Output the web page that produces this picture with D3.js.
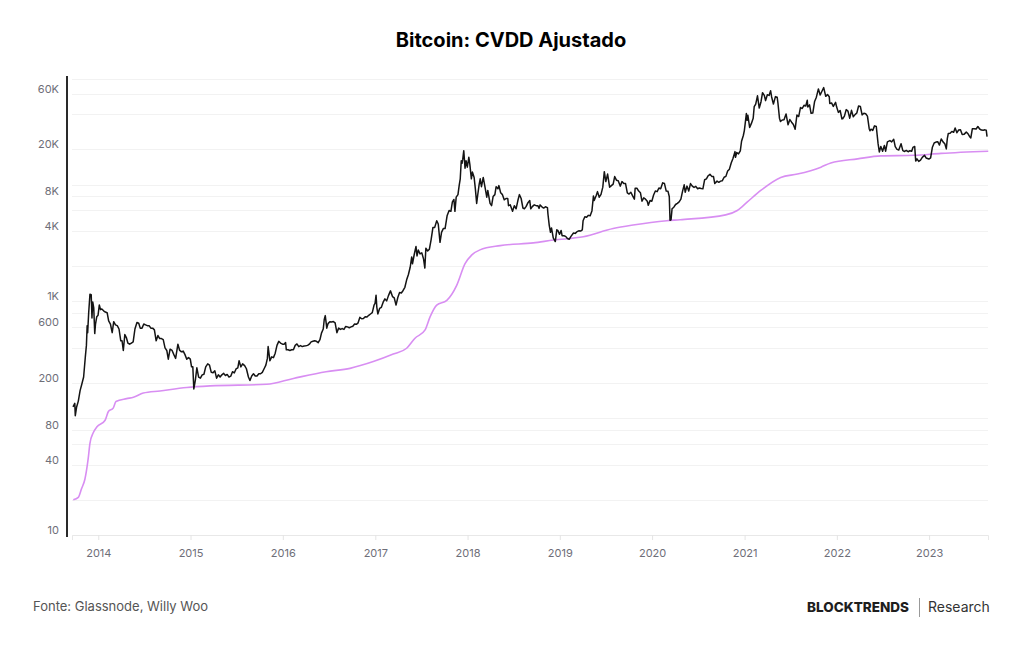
<!DOCTYPE html>
<html>
<head>
<meta charset="utf-8">
<script src="https://cdn.jsdelivr.net/npm/d3@7"></script>
<style>
  body { margin: 0; background: #fff; }
  svg { display: block; font-family: Inter, "Noto Sans", sans-serif; }
</style>
</head>
<body>
<div id="chart"></div>
<script>
// BTC price (black), one array per year
var price2013 = [["2013-09-23",125],["2013-09-30",134],["2013-10-02",105],["2013-10-07",124],["2013-10-14",140],["2013-10-21",172],["2013-10-28",196],["2013-11-04",225],["2013-11-11",340],["2013-11-15",420],["2013-11-18",620],["2013-11-20",540],["2013-11-24",800],["2013-11-29",1150],["2013-12-04",1140],["2013-12-07",720],["2013-12-10",990],["2013-12-14",880],["2013-12-18",530],["2013-12-21",640],["2013-12-26",740],["2013-12-31",760]];
var price2014 = [["2014-01-05",930],["2014-01-10",850],["2014-01-15",860],["2014-01-22",830],["2014-01-29",810],["2014-02-05",800],["2014-02-11",680],["2014-02-18",640],["2014-02-25",540],["2014-03-03",670],["2014-03-10",630],["2014-03-17",620],["2014-03-24",580],["2014-03-31",460],["2014-04-05",460],["2014-04-10",380],["2014-04-16",520],["2014-04-22",490],["2014-04-28",440],["2014-05-05",430],["2014-05-12",440],["2014-05-19",450],["2014-05-26",580],["2014-06-03",660],["2014-06-10",650],["2014-06-16",590],["2014-06-23",590],["2014-06-30",640],["2014-07-07",630],["2014-07-14",620],["2014-07-21",620],["2014-07-28",590],["2014-08-04",590],["2014-08-11",570],["2014-08-18",460],["2014-08-25",510],["2014-09-01",480],["2014-09-08",480],["2014-09-15",470],["2014-09-22",400],["2014-09-29",380],["2014-10-05",320],["2014-10-12",390],["2014-10-20",380],["2014-10-27",350],["2014-11-03",325],["2014-11-12",430],["2014-11-19",380],["2014-11-26",370],["2014-12-03",375],["2014-12-10",350],["2014-12-17",320],["2014-12-24",330],["2014-12-31",320]];
var price2015 = [["2015-01-05",275],["2015-01-10",275],["2015-01-14",178],["2015-01-20",212],["2015-01-26",270],["2015-02-02",225],["2015-02-09",220],["2015-02-16",235],["2015-02-23",238],["2015-03-02",275],["2015-03-10",292],["2015-03-17",285],["2015-03-24",247],["2015-03-31",245],["2015-04-07",255],["2015-04-14",220],["2015-04-21",235],["2015-04-28",225],["2015-05-05",235],["2015-05-12",242],["2015-05-19",232],["2015-05-26",237],["2015-06-02",225],["2015-06-09",229],["2015-06-16",250],["2015-06-23",244],["2015-06-30",264],["2015-07-07",270],["2015-07-12",310],["2015-07-19",275],["2015-07-26",292],["2015-08-03",282],["2015-08-10",265],["2015-08-18",225],["2015-08-24",210],["2015-08-31",230],["2015-09-07",240],["2015-09-14",230],["2015-09-21",230],["2015-09-28",240],["2015-10-05",240],["2015-10-12",247],["2015-10-19",265],["2015-10-26",285],["2015-11-01",325],["2015-11-04",410],["2015-11-11",310],["2015-11-18",335],["2015-11-25",330],["2015-12-02",360],["2015-12-09",420],["2015-12-16",455],["2015-12-23",440],["2015-12-31",430]];
var price2016 = [["2016-01-06",430],["2016-01-12",445],["2016-01-15",385],["2016-01-22",385],["2016-01-29",380],["2016-02-05",385],["2016-02-12",385],["2016-02-19",420],["2016-02-26",432],["2016-03-04",410],["2016-03-11",418],["2016-03-18",410],["2016-03-25",415],["2016-04-01",417],["2016-04-08",420],["2016-04-15",430],["2016-04-22",450],["2016-04-29",455],["2016-05-06",460],["2016-05-13",455],["2016-05-20",443],["2016-05-27",470],["2016-06-02",535],["2016-06-09",580],["2016-06-13",700],["2016-06-17",755],["2016-06-23",590],["2016-06-28",645],["2016-07-05",670],["2016-07-12",665],["2016-07-19",672],["2016-07-26",655],["2016-08-02",540],["2016-08-09",590],["2016-08-16",575],["2016-08-23",585],["2016-08-30",575],["2016-09-06",610],["2016-09-13",605],["2016-09-20",595],["2016-09-27",605],["2016-10-04",612],["2016-10-11",640],["2016-10-18",636],["2016-10-25",655],["2016-11-01",730],["2016-11-08",710],["2016-11-15",712],["2016-11-22",740],["2016-11-29",735],["2016-12-06",760],["2016-12-13",780],["2016-12-20",800],["2016-12-27",930],["2016-12-31",960]];
var price2017 = [["2017-01-04",1130],["2017-01-07",890],["2017-01-11",780],["2017-01-18",870],["2017-01-25",890],["2017-02-01",985],["2017-02-08",1050],["2017-02-15",1010],["2017-02-22",1120],["2017-03-02",1230],["2017-03-10",1100],["2017-03-17",1070],["2017-03-24",930],["2017-03-31",1080],["2017-04-07",1190],["2017-04-14",1180],["2017-04-21",1240],["2017-04-28",1320],["2017-05-05",1530],["2017-05-12",1700],["2017-05-19",1960],["2017-05-25",2400],["2017-05-28",2100],["2017-06-04",2520],["2017-06-11",2950],["2017-06-15",2450],["2017-06-20",2750],["2017-06-27",2550],["2017-07-04",2600],["2017-07-11",2300],["2017-07-16",1930],["2017-07-20",2850],["2017-07-27",2700],["2017-08-03",2800],["2017-08-10",3400],["2017-08-17",4300],["2017-08-24",4300],["2017-09-01",4900],["2017-09-07",4600],["2017-09-14",3200],["2017-09-20",3900],["2017-09-27",4200],["2017-10-04",4200],["2017-10-12",5400],["2017-10-20",6000],["2017-10-27",5900],["2017-11-02",7100],["2017-11-08",7450],["2017-11-12",5900],["2017-11-17",7800],["2017-11-24",8200],["2017-11-29",9900],["2017-12-03",11200],["2017-12-07",16000],["2017-12-10",15200],["2017-12-13",16500],["2017-12-17",19500],["2017-12-22",13800],["2017-12-26",16000],["2017-12-31",14100]];
var price2018 = [["2018-01-06",17100],["2018-01-10",14900],["2018-01-16",11200],["2018-01-20",12800],["2018-01-27",11500],["2018-02-01",9100],["2018-02-06",6900],["2018-02-10",8100],["2018-02-16",10100],["2018-02-20",11200],["2018-02-25",9600],["2018-03-04",11500],["2018-03-11",9500],["2018-03-18",7800],["2018-03-22",8900],["2018-03-31",6900],["2018-04-06",6600],["2018-04-12",7900],["2018-04-19",8200],["2018-04-24",9600],["2018-05-01",9200],["2018-05-05",9800],["2018-05-12",8500],["2018-05-19",8200],["2018-05-26",7400],["2018-06-02",7600],["2018-06-09",7600],["2018-06-12",6600],["2018-06-19",6700],["2018-06-28",5900],["2018-07-05",6600],["2018-07-12",6200],["2018-07-19",7300],["2018-07-25",8200],["2018-08-01",7600],["2018-08-08",6300],["2018-08-14",6200],["2018-08-21",6500],["2018-08-28",7000],["2018-09-04",7300],["2018-09-08",6200],["2018-09-15",6500],["2018-09-22",6700],["2018-09-29",6600],["2018-10-06",6600],["2018-10-11",6250],["2018-10-15",6700],["2018-10-22",6450],["2018-10-29",6300],["2018-11-05",6450],["2018-11-13",6350],["2018-11-15",5600],["2018-11-20",4500],["2018-11-25",3900],["2018-11-29",4250],["2018-12-06",3500],["2018-12-14",3250],["2018-12-20",4100],["2018-12-24",4050],["2018-12-31",3750]];
var price2019 = [["2019-01-06",4050],["2019-01-10",3650],["2019-01-17",3650],["2019-01-24",3600],["2019-01-31",3450],["2019-02-07",3400],["2019-02-14",3600],["2019-02-24",3850],["2019-03-03",3820],["2019-03-10",3950],["2019-03-17",4020],["2019-03-24",4000],["2019-03-31",4100],["2019-04-03",4900],["2019-04-10",5300],["2019-04-17",5250],["2019-04-24",5450],["2019-05-01",5400],["2019-05-08",5950],["2019-05-14",8000],["2019-05-17",7300],["2019-05-25",8050],["2019-05-30",8700],["2019-06-06",7800],["2019-06-13",8250],["2019-06-20",9500],["2019-06-26",12900],["2019-07-02",10600],["2019-07-09",12300],["2019-07-17",9500],["2019-07-24",9800],["2019-07-31",10100],["2019-08-06",11700],["2019-08-13",10900],["2019-08-20",10800],["2019-08-28",9700],["2019-09-04",10600],["2019-09-11",10200],["2019-09-18",10200],["2019-09-25",8500],["2019-10-02",8300],["2019-10-09",8600],["2019-10-16",8000],["2019-10-23",7500],["2019-10-26",9300],["2019-11-02",9300],["2019-11-09",8800],["2019-11-16",8500],["2019-11-22",7200],["2019-11-29",7700],["2019-12-06",7500],["2019-12-13",7200],["2019-12-17",6650],["2019-12-24",7300],["2019-12-31",7200]];
var price2020 = [["2020-01-07",8150],["2020-01-14",8800],["2020-01-21",8700],["2020-01-28",9350],["2020-02-04",9200],["2020-02-12",10350],["2020-02-19",10200],["2020-02-26",8800],["2020-03-04",8750],["2020-03-09",7900],["2020-03-12",4950],["2020-03-16",5000],["2020-03-20",6200],["2020-03-27",6400],["2020-04-03",6750],["2020-04-10",6900],["2020-04-17",7100],["2020-04-24",7500],["2020-04-30",8650],["2020-05-07",9950],["2020-05-11",8600],["2020-05-18",9700],["2020-05-25",8800],["2020-06-01",10200],["2020-06-08",9700],["2020-06-15",9450],["2020-06-22",9650],["2020-06-29",9200],["2020-07-06",9350],["2020-07-13",9250],["2020-07-20",9200],["2020-07-27",11000],["2020-08-03",11200],["2020-08-10",11900],["2020-08-17",12250],["2020-08-24",11750],["2020-08-31",11700],["2020-09-05",10200],["2020-09-14",10700],["2020-09-21",10450],["2020-09-28",10700],["2020-10-05",10800],["2020-10-12",11550],["2020-10-19",11750],["2020-10-26",13050],["2020-11-02",13550],["2020-11-09",15300],["2020-11-16",16700],["2020-11-24",19150],["2020-11-26",17100],["2020-12-01",18800],["2020-12-08",18300],["2020-12-15",19400],["2020-12-20",23500],["2020-12-27",26300],["2020-12-31",29000]];
var price2021 = [["2021-01-03",32800],["2021-01-08",40600],["2021-01-11",35500],["2021-01-14",39200],["2021-01-21",30800],["2021-01-28",33400],["2021-02-04",36900],["2021-02-08",46400],["2021-02-14",48800],["2021-02-21",57500],["2021-02-28",45200],["2021-03-07",51200],["2021-03-13",61200],["2021-03-20",58100],["2021-03-25",52300],["2021-04-01",58700],["2021-04-08",58000],["2021-04-14",63500],["2021-04-18",56200],["2021-04-25",49000],["2021-05-03",56600],["2021-05-10",55900],["2021-05-13",49700],["2021-05-19",37000],["2021-05-23",34700],["2021-05-30",35700],["2021-06-06",35800],["2021-06-14",40200],["2021-06-22",32500],["2021-06-29",36000],["2021-07-06",34200],["2021-07-13",32700],["2021-07-20",29800],["2021-07-27",39400],["2021-08-03",38200],["2021-08-10",45600],["2021-08-17",44800],["2021-08-24",47700],["2021-08-31",47100],["2021-09-06",52700],["2021-09-08",46100],["2021-09-15",48100],["2021-09-21",40700],["2021-09-28",41000],["2021-10-05",51500],["2021-10-12",56000],["2021-10-20",65900],["2021-10-27",58500],["2021-11-03",62900],["2021-11-10",67600],["2021-11-18",56900],["2021-11-25",59000],["2021-12-02",56500],["2021-12-04",49400],["2021-12-11",50000],["2021-12-18",46700],["2021-12-27",50600],["2021-12-31",46300]];
var price2022 = [["2022-01-07",41500],["2022-01-14",43100],["2022-01-21",36500],["2022-01-24",36600],["2022-01-31",38500],["2022-02-07",43800],["2022-02-14",42500],["2022-02-21",37000],["2022-02-28",43200],["2022-03-07",38100],["2022-03-14",39700],["2022-03-21",41000],["2022-03-28",47100],["2022-04-04",46600],["2022-04-11",39500],["2022-04-18",40800],["2022-04-25",40400],["2022-05-02",38500],["2022-05-09",30100],["2022-05-12",28900],["2022-05-16",29800],["2022-05-23",29100],["2022-05-30",31800],["2022-06-06",31400],["2022-06-13",22500],["2022-06-18",19000],["2022-06-24",21200],["2022-07-01",19300],["2022-07-08",21600],["2022-07-13",19300],["2022-07-20",23200],["2022-07-30",23800],["2022-08-06",23200],["2022-08-14",24400],["2022-08-20",21100],["2022-08-27",20000],["2022-09-03",19800],["2022-09-12",22400],["2022-09-19",19500],["2022-09-26",19200],["2022-10-03",19600],["2022-10-10",19100],["2022-10-17",19500],["2022-10-24",19300],["2022-10-29",20800],["2022-11-05",21200],["2022-11-09",15900],["2022-11-14",16600],["2022-11-21",15800],["2022-11-28",16200],["2022-12-05",17100],["2022-12-14",17800],["2022-12-20",16900],["2022-12-31",16550]];
var price2023 = [["2023-01-07",16950],["2023-01-14",20900],["2023-01-21",22700],["2023-01-28",23100],["2023-02-04",23300],["2023-02-11",21800],["2023-02-18",24600],["2023-02-25",23200],["2023-03-04",22400],["2023-03-10",20200],["2023-03-14",24700],["2023-03-18",27400],["2023-03-25",27500],["2023-04-01",28500],["2023-04-08",28000],["2023-04-14",30500],["2023-04-21",27800],["2023-04-28",29300],["2023-05-05",29500],["2023-05-12",26800],["2023-05-19",26900],["2023-05-28",28100],["2023-06-04",27200],["2023-06-10",25800],["2023-06-15",25100],["2023-06-21",30000],["2023-06-28",30100],["2023-07-06",29900],["2023-07-13",31400],["2023-07-20",29900],["2023-07-27",29300],["2023-08-03",29200],["2023-08-10",29400],["2023-08-15",29200],["2023-08-18",26000],["2023-08-20",26100]];

// adjusted CVDD (purple)
var cvdd = [["2013-09-24",20],["2013-10-14",21],["2013-10-27",25],["2013-11-09",30],["2013-11-22",45],["2013-11-29",61],["2013-12-12",75],["2013-12-26",84],["2014-01-28",96],["2014-02-10",114],["2014-03-01",122],["2014-03-12",139],["2014-04-23",147],["2014-05-20",151],["2014-06-28",164],["2014-09-02",171],["2014-12-17",183],["2015-03-19",189],["2015-10-29",195],["2016-02-12",219],["2016-06-20",250],["2016-09-23",267],["2016-12-24",305],["2017-03-13",354],["2017-05-05",397],["2017-06-07",484],["2017-07-17",570],["2017-08-06",740],["2017-09-01",930],["2017-10-11",1020],["2017-11-19",1370],["2017-12-22",2100],["2018-01-18",2500],["2018-02-19",2760],["2018-05-10",3000],["2018-09-18",3170],["2018-12-07",3350],["2019-04-04",3570],["2019-07-31",4200],["2019-10-18",4500],["2020-02-28",4900],["2020-04-21",5000],["2020-10-18",5500],["2020-12-03",6000],["2021-01-12",7100],["2021-03-06",8900],["2021-05-24",11500],["2021-07-29",12300],["2021-10-30",14100],["2021-12-08",15300],["2022-03-24",16600],["2022-06-24",17600],["2022-11-03",17800],["2023-02-17",18500],["2023-08-23",19300]];

var gridTicks = [10, 20, 40, 60, 80, 100, 200, 400, 600, 800, 1000, 2000, 4000, 6000, 8000, 10000, 20000, 40000, 60000, 80000];
var labelTicks = [10, 40, 80, 200, 600, 1000, 4000, 8000, 20000, 60000];
var xDomain = ["2013-09-19", "2023-08-22"];
var yDomain = [10, 85000];

var w = 1024, h = 645;
var parse = d3.timeParse("%Y-%m-%d");
var prices = [].concat(price2013, price2014, price2015, price2016, price2017, price2018,
  price2019, price2020, price2021, price2022, price2023);

var svg = d3.select("#chart").append("svg")
  .attr("width", w)
  .attr("height", h);

svg.append("rect").attr("width", w).attr("height", h).attr("fill", "#fff");

var x = d3.scaleTime()
  .domain(xDomain.map(parse))
  .range([72, 988]);
var y = d3.scaleLog()
  .domain(yDomain)
  .range([535, 76]);

// title
svg.append("text")
  .attr("x", 511)
  .attr("y", 47)
  .attr("text-anchor", "middle")
  .attr("font-size", 20)
  .attr("font-weight", 700)
  .attr("fill", "#000")
  .text("Bitcoin: CVDD Ajustado");

// horizontal grid
svg.append("g")
  .selectAll("line")
  .data(gridTicks)
  .enter()
  .append("line")
  .attr("x1", 72)
  .attr("x2", 988)
  .attr("y1", function(d) { return Math.round(y(d)) + 0.5; })
  .attr("y2", function(d) { return Math.round(y(d)) + 0.5; })
  .attr("stroke", "#f2f2f2");

// x axis
var xg = svg.append("g")
  .attr("transform", "translate(0,535)")
  .call(d3.axisBottom(x)
    .ticks(d3.timeYear.every(1))
    .tickFormat(d3.timeFormat("%Y"))
    .tickSize(5)
    .tickPadding(9));
xg.select(".domain").attr("stroke", "#e8e8e8");
xg.selectAll(".tick line").attr("stroke", "#e4e4e4");
xg.selectAll(".tick text")
  .attr("fill", "#6e6e78")
  .attr("font-size", 11)
  .attr("font-family", "Inter, sans-serif");

// y labels (sit a bit above their grid line)
var yg = svg.append("g")
  .attr("transform", "translate(67,0)")
  .call(d3.axisLeft(y)
    .tickValues(labelTicks)
    .tickFormat(function(d) { return d >= 1000 ? (d / 1000) + "K" : d; })
    .tickSize(0)
    .tickPadding(8));
yg.select(".domain").remove();
yg.selectAll(".tick text")
  .attr("y", -5)
  .attr("fill", "#6e6e78")
  .attr("font-size", 11)
  .attr("font-family", "Inter, sans-serif");

// dark left rule
svg.append("line")
  .attr("x1", 67).attr("x2", 67)
  .attr("y1", 76).attr("y2", 537)
  .attr("stroke", "#2a2a2a")
  .attr("stroke-width", 2);

var line = d3.line()
  .x(function(d) { return x(parse(d[0])); })
  .y(function(d) { return y(d[1]); });

svg.append("path")
  .datum(cvdd)
  .attr("fill", "none")
  .attr("stroke", "#d88ef2")
  .attr("stroke-width", 1.6)
  .attr("d", line.curve(d3.curveMonotoneX));

svg.append("path")
  .datum(prices)
  .attr("fill", "none")
  .attr("stroke", "#141414")
  .attr("stroke-width", 1.5)
  .attr("stroke-linejoin", "round")
  .attr("d", line.curve(d3.curveLinear));

// footer
svg.append("text")
  .attr("x", 33)
  .attr("y", 611)
  .attr("font-size", 13)
  .attr("fill", "#555")
  .text("Fonte: Glassnode, Willy Woo");

svg.append("text")
  .attr("x", 909)
  .attr("y", 612)
  .attr("text-anchor", "end")
  .attr("font-size", 13.5)
  .attr("font-weight", 800)
  .attr("fill", "#1e1e1e")
  .text("BLOCKTRENDS");

svg.append("line")
  .attr("x1", 919.5).attr("x2", 919.5)
  .attr("y1", 598).attr("y2", 617)
  .attr("stroke", "#999");

svg.append("text")
  .attr("x", 928)
  .attr("y", 612)
  .attr("font-size", 14)
  .attr("fill", "#333")
  .text("Research");
</script>
</body>
</html>
